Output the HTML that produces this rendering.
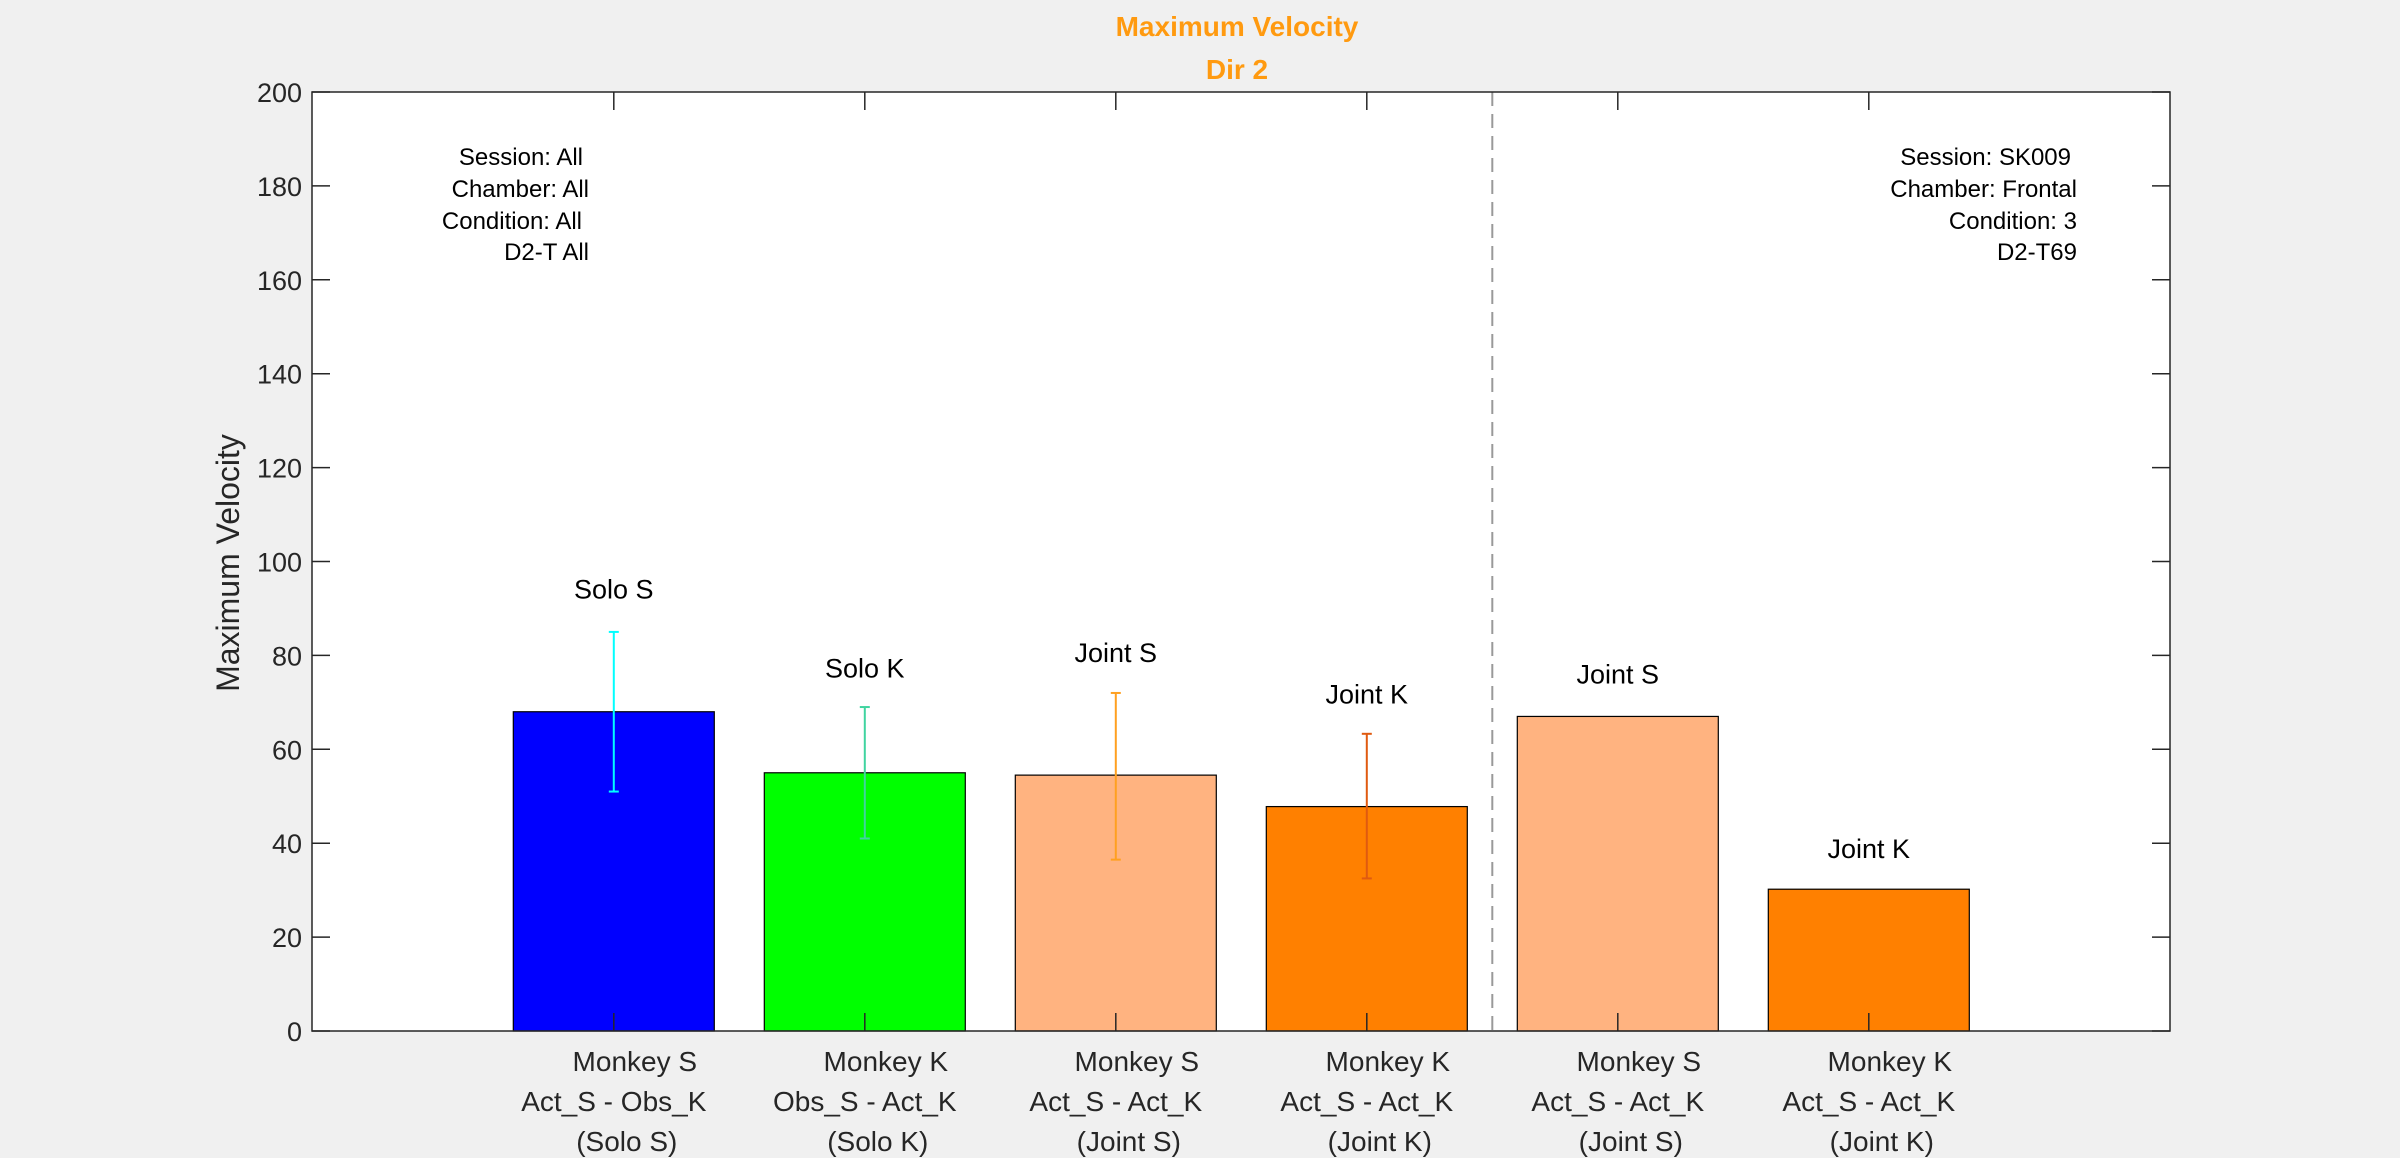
<!DOCTYPE html>
<html><head><meta charset="utf-8"><style>
html,body{margin:0;padding:0;background:#f0f0f0;}
svg{display:block;font-family:"Liberation Sans",Arial,sans-serif;}
</style></head><body>
<svg id="chart" width="2400" height="1158" viewBox="0 0 2400 1158" xmlns="http://www.w3.org/2000/svg">
<rect x="0" y="0" width="2400" height="1158" fill="#f0f0f0"/>
<rect x="312" y="92" width="1858" height="939" fill="#ffffff"/>
<g id="marks"></g>
<g id="axes"></g>
<text x="1237" y="36" text-anchor="middle" font-size="28" font-weight="bold" fill="#ff9a10">Maximum Velocity</text>
<text x="1237" y="79" text-anchor="middle" font-size="28" font-weight="bold" fill="#ff9a10">Dir 2</text>
<text transform="translate(239,563) rotate(-90)" text-anchor="middle" font-size="32" fill="#262626">Maximum Velocity</text>
<g font-size="24" fill="#000" text-anchor="end">
<text x="583" y="165">Session: All</text>
<text x="589" y="197">Chamber: All</text>
<text x="582" y="229">Condition: All</text>
<text x="589" y="260">D2-T All</text>
</g>
<g font-size="24" fill="#000" text-anchor="end">
<text x="2071" y="165">Session: SK009</text>
<text x="2077" y="197">Chamber: Frontal</text>
<text x="2077" y="229">Condition: 3</text>
<text x="2077" y="260">D2-T69</text>
</g>
</svg>
<script>
const categories = ["Solo S","Solo K","Joint S","Joint K","Joint S","Joint K"];
const barValues = [68, 55, 54.5, 47.8, 67, 30.2];
const errLow = [51, 41, 36.5, 32.5, null, null];
const errHigh = [85, 69, 72, 63.3, null, null];
const labelValues = [94, 77.2, 80.5, 71.7, 75.9, 38.8];
const yTicks = [0,20,40,60,80,100,120,140,160,180,200];
const xLine1 = ["Monkey S","Monkey K","Monkey S","Monkey K","Monkey S","Monkey K"];
const xLine2 = ["Act_S - Obs_K","Obs_S - Act_K","Act_S - Act_K","Act_S - Act_K","Act_S - Act_K","Act_S - Act_K"];
const xLine3 = ["(Solo S)","(Solo K)","(Joint S)","(Joint K)","(Joint S)","(Joint K)"];
const barColors = ["#0000ff","#00ff00","#ffb380","#ff8000","#ffb380","#ff8000"];
const errColors = ["#00ffff","#40d4a0","#ffa020","#e05a10","#000","#000"];

const NS="http://www.w3.org/2000/svg";
const L=312,R=2170,T=92,B=1031;
const x=i=>613.8+i*251;
const y=v=>B-(v/200)*(B-T);
function mk(tag,attrs,parent){const e=document.createElementNS(NS,tag);for(const k in attrs)e.setAttribute(k,attrs[k]);parent.appendChild(e);return e;}
const marks=document.getElementById('marks');
const axes=document.getElementById('axes');
const bw=201;
categories.forEach((c,i)=>{
  const r=mk('rect',{x:x(i)-bw/2,y:y(barValues[i]),width:bw,height:y(0)-y(barValues[i]),fill:barColors[i],stroke:'#000','stroke-width':1.2},marks);
  
  
  if(errLow[i]!==null){
    const g=mk('g',{stroke:errColors[i],'stroke-width':2},marks);
    
    
    mk('line',{x1:x(i),x2:x(i),y1:y(errLow[i]),y2:y(errHigh[i])},g);
    mk('line',{x1:x(i)-5,x2:x(i)+5,y1:y(errLow[i]),y2:y(errLow[i])},g);
    mk('line',{x1:x(i)-5,x2:x(i)+5,y1:y(errHigh[i]),y2:y(errHigh[i])},g);
  }
  const t=mk('text',{x:x(i),y:y(labelValues[i])+9,'text-anchor':'middle','font-size':27,fill:'#000'},marks);
  t.textContent=c;
  
  
});
const dv=mk('line',{x1:x(3.5),x2:x(3.5),y1:T,y2:B,stroke:'#999','stroke-width':2,'stroke-dasharray':'14,8'},marks);


const box=mk('rect',{x:L,y:T,width:R-L,height:B-T,fill:'none',stroke:'#262626','stroke-width':1.5},axes);


yTicks.forEach(v=>{
  mk('line',{x1:L,x2:L+18,y1:y(v),y2:y(v),stroke:'#262626','stroke-width':1.5},axes);
  mk('line',{x1:R-18,x2:R,y1:y(v),y2:y(v),stroke:'#262626','stroke-width':1.5},axes);
  const t=mk('text',{x:L-10,y:y(v)+10,'text-anchor':'end','font-size':27,fill:'#262626'},axes);
  t.textContent=v;
  
  
});
categories.forEach((c,i)=>{
  mk('line',{x1:x(i),x2:x(i),y1:B,y2:B-18,stroke:'#262626','stroke-width':1.5},axes);
  mk('line',{x1:x(i),x2:x(i),y1:T,y2:T+18,stroke:'#262626','stroke-width':1.5},axes);
  const g=mk('g',{'font-size':28,fill:'#262626','text-anchor':'middle'},axes);
  
  
  const a=mk('text',{x:x(i)+21,y:1071},g);a.textContent=xLine1[i];
  const b=mk('text',{x:x(i),y:1111},g);b.textContent=xLine2[i];
  const d=mk('text',{x:x(i)+13,y:1151},g);d.textContent=xLine3[i];
});
</script>
</body></html>
